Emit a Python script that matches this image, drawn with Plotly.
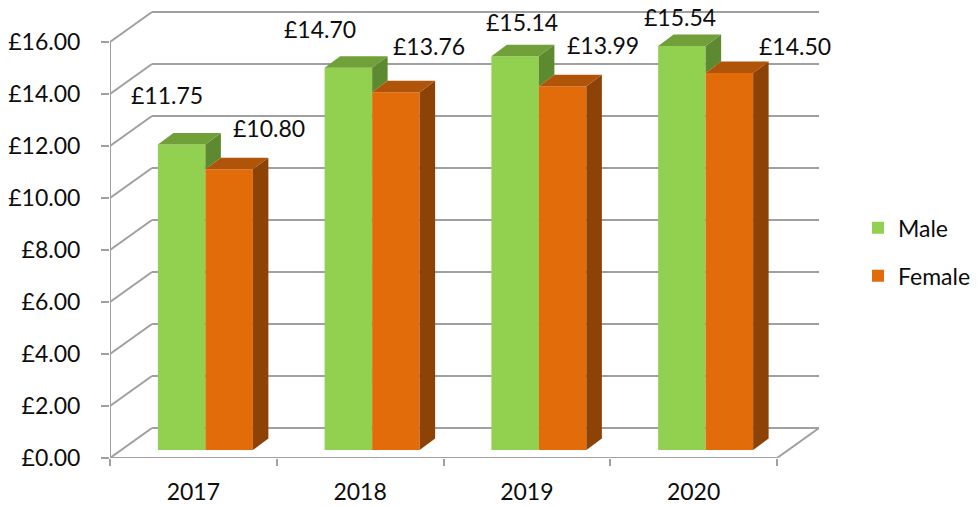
import plotly.graph_objects as go

# ---------------- data ----------------
years = ["2017", "2018", "2019", "2020"]
male = [11.75, 14.70, 15.14, 15.54]
female = [10.80, 13.76, 13.99, 14.50]
y_tick_vals = [0, 2, 4, 6, 8, 10, 12, 14, 16]
y_tick_text = ["£0.00", "£2.00", "£4.00", "£6.00", "£8.00",
               "£10.00", "£12.00", "£14.00", "£16.00"]

# ---------------- style / geometry ----------------
FONT = "Lato"
FS = 23
TXT = "#0d0d0d"
GRID = "#a0a0a0"
M_FRONT, M_TOP, M_SIDE = "#92d050", "#71a03b", "#5d8a30"
F_FRONT, F_TOP, F_SIDE = "#e36c0a", "#b0540a", "#8e4306"

PX_X = 166.75      # pixels per category unit
PX_Y = 26.0        # pixels per £1
DX = 42 / PX_X     # depth of the chart box (x)
DY = 30 / PX_Y     # depth of the chart box (y)
BAR_W = 47.5 / PX_X
BAR_DX0 = 12 / PX_X
BAR_B0 = 8 / PX_Y
BAR_DDX = 15.5 / PX_X
BAR_DDY = 11.5 / PX_Y

# label nudges in pixels (x, up)
male_shift = [(-15, 50), (-28, 39), (7, 34), (-2, 29)]
female_shift = [(40, 41), (33, 46), (40, 41), (66, 27)]

cat = list(range(len(years)))
x_lo, x_hi = -0.5, len(years) - 0.5

fig = go.Figure()

fig.add_trace(go.Bar(name="Male", x=cat, y=male, base=BAR_B0, width=BAR_W,
                     offset=BAR_DX0 - BAR_W, marker=dict(color=M_FRONT, line=dict(width=0)),
                     legendgroup="m", hoverinfo="skip"))
fig.add_trace(go.Bar(name="Female", x=cat, y=female, base=BAR_B0, width=BAR_W,
                     offset=BAR_DX0, marker=dict(color=F_FRONT, line=dict(width=0)),
                     legendgroup="f", hoverinfo="skip"))


def faces(values, left_off, bottoms, top_col, side_col):
    tx, ty, sx, sy = [], [], [], []
    for i, v in enumerate(values):
        x0 = i + left_off
        x1 = x0 + BAR_W
        top = BAR_B0 + v
        bot = bottoms[i]
        tx += [x0, x1, x1 + BAR_DDX, x0 + BAR_DDX, x0, None]
        ty += [top, top, top + BAR_DDY, top + BAR_DDY, top, None]
        if bot < top:
            sx += [x1, x1, x1 + BAR_DDX, x1 + BAR_DDX, x1, None]
            sy += [bot, top, top + BAR_DDY, bot + BAR_DDY, bot, None]
    for xs, ys, col in ((sx, sy, side_col), (tx, ty, top_col)):
        fig.add_trace(go.Scatter(x=xs, y=ys, mode="lines", fill="toself",
                                 fillcolor=col, line=dict(width=0, color=col),
                                 showlegend=False, hoverinfo="skip"))


male_bottoms = [BAR_B0 + min(m, f) for m, f in zip(male, female)]
female_bottoms = [BAR_B0] * len(female)
faces(male, BAR_DX0 - BAR_W, male_bottoms, M_TOP, M_SIDE)
faces(female, BAR_DX0, female_bottoms, F_TOP, F_SIDE)

# ---------------- 3-D frame (walls, floor, gridlines) ----------------
shapes = []
line = dict(color=GRID, width=2)
for v in y_tick_vals:
    shapes.append(dict(type="line", x0=x_lo, y0=v, x1=x_lo + DX, y1=v + DY,
                       xref="x", yref="y", line=line, layer="below"))
    shapes.append(dict(type="line", x0=x_lo + DX, y0=v + DY, x1=x_hi + DX, y1=v + DY,
                       xref="x", yref="y", line=line, layer="below"))
shapes.append(dict(type="line", x0=x_lo, y0=0, x1=x_hi, y1=0,
                   xref="x", yref="y", line=line, layer="below"))
shapes.append(dict(type="line", x0=x_hi, y0=0, x1=x_hi + DX, y1=DY,
                   xref="x", yref="y", line=line, layer="below"))
shapes.append(dict(type="line", x0=x_lo, y0=0, x1=x_lo, y1=max(y_tick_vals),
                   xref="x", yref="y", line=line, layer="below"))

# ---------------- data labels ----------------
annotations = []
for vals, left_off, shifts in ((male, BAR_DX0 - BAR_W, male_shift),
                               (female, BAR_DX0, female_shift)):
    for i, v in enumerate(vals):
        annotations.append(dict(x=i + left_off + BAR_W / 2, y=BAR_B0 + v,
                                xref="x", yref="y", text=f"£{v:.2f}",
                                showarrow=False, xanchor="center", yanchor="middle",
                                xshift=shifts[i][0], yshift=shifts[i][1],
                                font=dict(family=FONT, size=FS, color=TXT)))

fig.update_layout(
    width=979, height=507,
    margin=dict(l=110, r=160, t=0, b=49, autoexpand=False),
    paper_bgcolor="white", plot_bgcolor="white",
    barmode="overlay",
    shapes=shapes, annotations=annotations,
    font=dict(family=FONT, size=FS, color=TXT),
    showlegend=True,
    legend=dict(x=1.055, xanchor="left", y=0.45, yanchor="middle",
                traceorder="grouped", tracegroupgap=15,
                font=dict(family=FONT, size=FS, color=TXT),
                bgcolor="rgba(0,0,0,0)"),
    xaxis=dict(range=[x_lo, x_hi + DX], tickmode="array", tickvals=cat, ticktext=years,
               ticks="", showgrid=False, zeroline=False, showline=False,
               ticklabelstandoff=18, automargin=False,
               minor=dict(tickmode="array", tickvals=[x_lo + k for k in range(len(years) + 1)],
                          ticks="outside", ticklen=7, tickwidth=2, tickcolor=GRID,
                          showgrid=False),
               tickfont=dict(family=FONT, size=FS, color=TXT), fixedrange=True),
    yaxis=dict(range=[0, 458 / PX_Y], tickmode="array", tickvals=y_tick_vals,
               ticktext=y_tick_text, ticks="outside", ticklen=8, tickwidth=2,
               tickcolor=GRID, showgrid=False, zeroline=False, showline=False,
               ticklabelstandoff=16, automargin=False,
               tickfont=dict(family=FONT, size=FS, color=TXT), fixedrange=True),
)

fig.write_html("out.html", config={"displayModeBar": False},
               post_script="document.body.style.margin='0';document.body.style.overflow='hidden';")
